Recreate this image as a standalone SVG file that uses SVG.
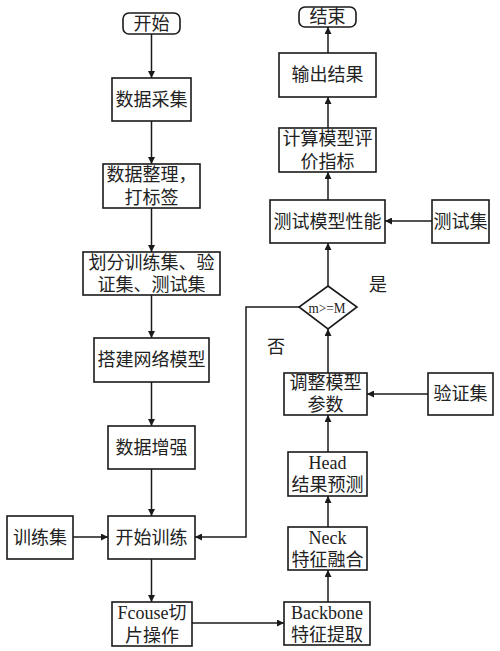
<svg xmlns="http://www.w3.org/2000/svg" width="500" height="651" viewBox="0 0 500 651">
<defs>
<style>
.b{fill:#fff;stroke:#1a1a1a;stroke-width:1.6}
.t{font-family:"Liberation Serif","Noto Sans CJK SC",serif;font-size:18px;fill:#222;text-anchor:middle}
.c{fill:none;stroke:#1a1a1a;stroke-width:1.5}
.s{font-family:"Liberation Serif","Noto Sans CJK SC",serif;font-size:15px;fill:#222;text-anchor:middle}
</style>
<marker id="a" viewBox="0 0 10 10" refX="10" refY="5" markerWidth="7" markerHeight="7" markerUnits="userSpaceOnUse" orient="auto">
<path d="M0,0 L10,5 L0,10 z" fill="#1a1a1a"/>
</marker>
</defs>
<rect width="500" height="651" fill="#fff"/>
<g id="connectors">
<line class="c" x1="151.5" y1="34" x2="151.5" y2="78" marker-end="url(#a)"/>
<line class="c" x1="151.5" y1="121" x2="151.5" y2="164" marker-end="url(#a)"/>
<line class="c" x1="151.5" y1="208" x2="151.5" y2="252" marker-end="url(#a)"/>
<line class="c" x1="151.5" y1="295" x2="151.5" y2="338" marker-end="url(#a)"/>
<line class="c" x1="151.5" y1="382" x2="151.5" y2="426" marker-end="url(#a)"/>
<line class="c" x1="151.5" y1="469" x2="151.5" y2="516" marker-end="url(#a)"/>
<line class="c" x1="73" y1="537" x2="108" y2="537" marker-end="url(#a)"/>
<line class="c" x1="151.5" y1="559" x2="151.5" y2="602" marker-end="url(#a)"/>
<line class="c" x1="192" y1="623" x2="284" y2="623" marker-end="url(#a)"/>
<line class="c" x1="328" y1="602" x2="328" y2="570" marker-end="url(#a)"/>
<line class="c" x1="328" y1="527" x2="328" y2="496" marker-end="url(#a)"/>
<line class="c" x1="328" y1="452" x2="328" y2="415" marker-end="url(#a)"/>
<line class="c" x1="428" y1="394" x2="367" y2="394" marker-end="url(#a)"/>
<line class="c" x1="328" y1="373" x2="328" y2="329" marker-end="url(#a)"/>
<line class="c" x1="328" y1="286" x2="328" y2="243" marker-end="url(#a)"/>
<line class="c" x1="432" y1="221" x2="385" y2="221" marker-end="url(#a)"/>
<line class="c" x1="328" y1="200" x2="328" y2="172" marker-end="url(#a)"/>
<line class="c" x1="328" y1="128" x2="328" y2="97" marker-end="url(#a)"/>
<line class="c" x1="328" y1="53" x2="328" y2="27" marker-end="url(#a)"/>
<polyline class="c" points="299,307 246,307 246,537 195,537" marker-end="url(#a)"/>
<text class="t" x="378" y="291">是</text>
<text class="t" x="276" y="353">否</text>
</g>
<g id="start"><rect class="b" x="123" y="13" width="57" height="21" rx="6"/><text class="t" x="151.5" y="30">开始</text></g>
<g id="collect"><rect class="b" x="112" y="78" width="79" height="43"/><text class="t" x="151.5" y="106">数据采集</text></g>
<g id="organize"><rect class="b" x="103" y="164" width="97" height="44"/><text class="t" x="151.5" y="181">数据整理，</text><text class="t" x="151.5" y="204">打标签</text></g>
<g id="split"><rect class="b" x="83" y="252" width="137" height="43"/><text class="t" x="151.5" y="269">划分训练集、验</text><text class="t" x="151.5" y="291">证集、测试集</text></g>
<g id="build"><rect class="b" x="94" y="338" width="115" height="44"/><text class="t" x="151.5" y="366">搭建网络模型</text></g>
<g id="augment"><rect class="b" x="108" y="426" width="87" height="43"/><text class="t" x="151.5" y="454">数据增强</text></g>
<g id="trainset"><rect class="b" x="7" y="516" width="66" height="43"/><text class="t" x="40" y="544">训练集</text></g>
<g id="train"><rect class="b" x="108" y="516" width="87" height="43"/><text class="t" x="151.5" y="544">开始训练</text></g>
<g id="focus"><rect class="b" x="112" y="602" width="80" height="44"/><text class="t" x="152" y="619">Fcouse切</text><text class="t" x="152" y="642">片操作</text></g>
<g id="backbone"><rect class="b" x="284" y="602" width="86" height="43"/><text class="t" x="327" y="619">Backbone</text><text class="t" x="327" y="641">特征提取</text></g>
<g id="neck"><rect class="b" x="288" y="527" width="79" height="43"/><text class="t" x="327.5" y="544">Neck</text><text class="t" x="327.5" y="566">特征融合</text></g>
<g id="head"><rect class="b" x="288" y="452" width="79" height="44"/><text class="t" x="327.5" y="469">Head</text><text class="t" x="327.5" y="491">结果预测</text></g>
<g id="tune"><rect class="b" x="284" y="373" width="83" height="42"/><text class="t" x="325.5" y="389">调整模型</text><text class="t" x="325.5" y="411">参数</text></g>
<g id="valset"><rect class="b" x="428" y="373" width="65" height="42"/><text class="t" x="460.5" y="400">验证集</text></g>
<g id="decision"><polygon class="b" points="328,286 357,307 328,329 299,307"/><text class="s" x="327" y="313" textLength="37" lengthAdjust="spacingAndGlyphs">m&gt;=M</text></g>
<g id="test"><rect class="b" x="270" y="200" width="115" height="43"/><text class="t" x="327.5" y="228">测试模型性能</text></g>
<g id="testset"><rect class="b" x="432" y="200" width="57" height="43"/><text class="t" x="460.5" y="228">测试集</text></g>
<g id="metrics"><rect class="b" x="279" y="128" width="97" height="44"/><text class="t" x="327.5" y="145">计算模型评</text><text class="t" x="327.5" y="168">价指标</text></g>
<g id="output"><rect class="b" x="279" y="53" width="97" height="44"/><text class="t" x="327.5" y="81">输出结果</text></g>
<g id="end"><rect class="b" x="299" y="7" width="57" height="20" rx="6"/><text class="t" x="327.5" y="23">结束</text></g>
</svg>
